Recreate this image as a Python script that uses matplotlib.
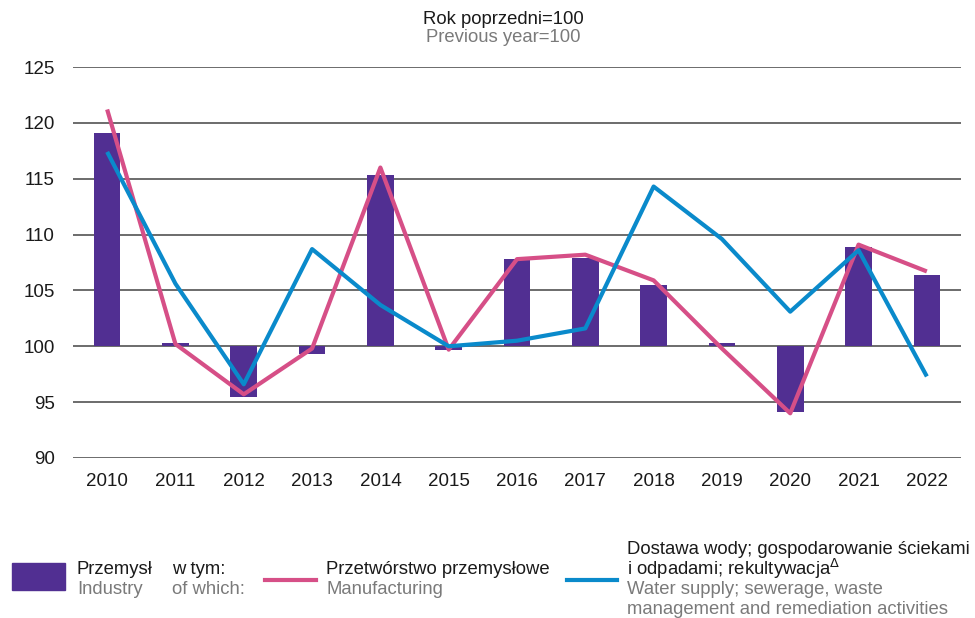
import matplotlib
matplotlib.use("Agg")
import matplotlib.pyplot as plt
from matplotlib.patches import Rectangle
from matplotlib.lines import Line2D

years = ["2010", "2011", "2012", "2013", "2014", "2015", "2016", "2017", "2018", "2019", "2020", "2021", "2022"]
industry = [119.1, 100.3, 95.5, 99.3, 115.3, 99.7, 107.8, 107.9, 105.5, 100.3, 94.1, 108.9, 106.4]
manufacturing = [121.2, 100.2, 95.7, 99.8, 116.0, 99.7, 107.8, 108.2, 105.9, 99.8, 94.0, 109.1, 106.7]
water = [117.4, 105.6, 96.6, 108.7, 103.7, 100.0, 100.5, 101.6, 114.3, 109.6, 103.1, 108.6, 97.3]
yticks = [90, 95, 100, 105, 110, 115, 120, 125]

PURPLE = "#512f92"
PINK = "#d64f87"
BLUE = "#0a8acb"
GRAY = "#7a7a7a"
DARK = "#1a1a1a"

plt.rcParams['font.family'] = ['Liberation Sans', 'DejaVu Sans']

W, H = 975, 618
fig = plt.figure(figsize=(W / 100, H / 100), dpi=100)
ax = fig.add_axes([73 / W, 1 - 458 / H, (961 - 73) / W, (458 - 67) / H])

x = list(range(len(years)))
base = 100
ax.bar(x, [v - base for v in industry], bottom=base, width=0.39, color=PURPLE, zorder=2)
ax.plot(x, manufacturing, color=PINK, lw=3, zorder=3, solid_capstyle='butt')
ax.plot(x, water, color=BLUE, lw=3, zorder=4, solid_capstyle='butt')

ax.set_ylim(90, 125)
ax.set_xlim(-0.5, len(years) - 0.5)
ax.set_yticks(yticks)
ax.set_xticks(x)
ax.set_xticklabels(years)
for t in yticks:
    ax.axhline(t, color="#444444", lw=1.1, zorder=1)
for s in ax.spines.values():
    s.set_visible(False)
ax.tick_params(length=0, labelsize=13.5, colors=DARK)
ax.tick_params(axis='y', pad=13)
ax.tick_params(axis='x', pad=11)

# Title
fig.text(503 / W, 1 - 19 / H, "Rok poprzedni=100", ha='center', va='center', fontsize=13.3, color=DARK)
fig.text(503 / W, 1 - 38 / H, "Previous year=100", ha='center', va='center', fontsize=13.3, color=GRAY)

# Legend
fs = 13.3
fig.add_artist(Rectangle((12 / W, 1 - 590 / H), 53 / W, 27 / H, transform=fig.transFigure, color=PURPLE))
fig.text(77 / W, 1 - 570 / H, "Przemysł", fontsize=fs, va='center', color=DARK)
fig.text(77 / W, 1 - 590 / H, "Industry", fontsize=fs, va='center', color=GRAY)
fig.text(172 / W, 1 - 570 / H, "w tym:", fontsize=fs, va='center', color=DARK)
fig.text(172 / W, 1 - 590 / H, "of which:", fontsize=fs, va='center', color=GRAY)
fig.add_artist(Line2D([265 / W, 316 / W], [1 - 580 / H, 1 - 580 / H], transform=fig.transFigure, color=PINK, lw=3))
fig.text(326 / W, 1 - 570 / H, "Przetwórstwo przemysłowe", fontsize=fs, va='center', color=DARK)
fig.text(326 / W, 1 - 590 / H, "Manufacturing", fontsize=fs, va='center', color=GRAY)
fig.add_artist(Line2D([567 / W, 617 / W], [1 - 580 / H, 1 - 580 / H], transform=fig.transFigure, color=BLUE, lw=3))
fig.text(627 / W, 1 - 549 / H, "Dostawa wody; gospodarowanie ściekami", fontsize=fs, va='center', color=DARK)
fig.text(627 / W, 1 - 569 / H, "i odpadami; rekultywacja$^{\\Delta}$", fontsize=fs, va='center', color=DARK)
fig.text(627 / W, 1 - 590 / H, "Water supply; sewerage, waste", fontsize=fs, va='center', color=GRAY)
fig.text(627 / W, 1 - 610 / H, "management and remediation activities", fontsize=fs, va='center', color=GRAY)

fig.savefig("out.png", dpi=100)
